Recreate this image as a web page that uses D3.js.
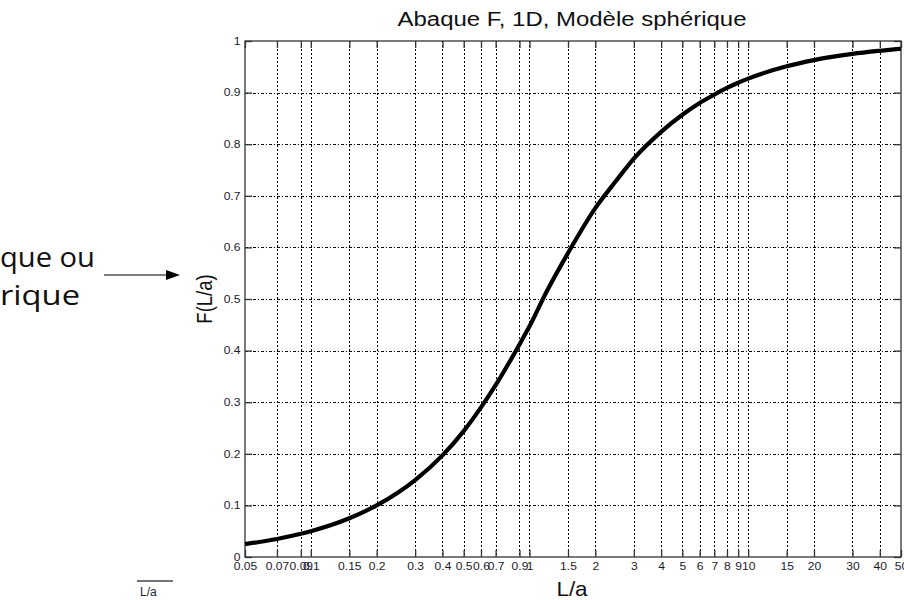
<!DOCTYPE html>
<html>
<head>
<meta charset="utf-8">
<script src="https://cdnjs.cloudflare.com/ajax/libs/d3/7.8.5/d3.min.js"></script>
<style>
  body { margin: 0; background: #fff; overflow: hidden; }
  .tick text { font-family: "Liberation Sans", Arial, sans-serif; font-size: 10.5px; fill: #1a1a2a; }
</style>
</head>
<body>
<div id="chart"></div>
<script>
//values (L/a, F)
var ratio_values = [0.05, 0.07, 0.09, 0.1, 0.15, 0.2, 0.3, 0.4, 0.5, 0.6, 0.7, 0.8, 0.9, 1,
  1.2, 1.5, 2, 2.5, 3, 4, 5, 6, 7, 8, 9, 10, 15, 20, 30, 40, 50];
var f_values = [0.025, 0.035, 0.045, 0.05, 0.075, 0.1, 0.149, 0.197, 0.244, 0.29, 0.333, 0.374, 0.412, 0.447,
  0.515, 0.589, 0.676, 0.73, 0.772, 0.824, 0.857, 0.88, 0.896, 0.909, 0.919, 0.927, 0.951, 0.963, 0.975, 0.981, 0.985];

//tick values and labels
var x_ticks = [0.05, 0.07, 0.09, 0.1, 0.15, 0.2, 0.3, 0.4, 0.5, 0.6, 0.7, 0.9, 1,
  1.5, 2, 3, 4, 5, 6, 7, 8, 9, 10, 15, 20, 30, 40, 50];
var x_tick_labels = ['0.05', '0.07', '0.09', '0.1', '0.15', '0.2', '0.3', '0.4', '0.5', '0.6', '0.7', '0.9', '1',
  '1.5', '2', '3', '4', '5', '6', '7', '8', '9', '10', '15', '20', '30', '40', '50'];
var y_ticks = [0, 0.1, 0.2, 0.3, 0.4, 0.5, 0.6, 0.7, 0.8, 0.9, 1];
var y_tick_labels = ['0', '0.1', '0.2', '0.3', '0.4', '0.5', '0.6', '0.7', '0.8', '0.9', '1'];

//setup
var width = 904;
var height = 600;
var plot = {left: 245, right: 901, top: 41, bottom: 557};
var label_stretch = 1.15;

var svg = d3.select('#chart')
  .append('svg')
  .attr('width', width)
  .attr('height', height);

var x = d3.scaleLog()
  .domain([0.05, 50])
  .range([plot.left, plot.right]);

var y = d3.scaleLinear()
  .domain([0, 1])
  .range([plot.bottom, plot.top]);

//grid (dotted, matlab style)
svg.append('g')
  .selectAll('line')
  .data(x_ticks.slice(1, -1))
  .enter()
  .append('line')
  .attr('x1', function(d) { return Math.round(x(d)) + 0.5; })
  .attr('x2', function(d) { return Math.round(x(d)) + 0.5; })
  .attr('y1', plot.top)
  .attr('y2', plot.bottom)
  .attr('stroke', '#000')
  .attr('stroke-width', 1)
  .attr('stroke-dasharray', '2,2');

svg.append('g')
  .selectAll('line')
  .data(y_ticks.slice(1, -1))
  .enter()
  .append('line')
  .attr('x1', plot.left)
  .attr('x2', plot.right)
  .attr('y1', function(d) { return Math.round(y(d)) + 0.5; })
  .attr('y2', function(d) { return Math.round(y(d)) + 0.5; })
  .attr('stroke', '#000')
  .attr('stroke-width', 1)
  .attr('stroke-dasharray', '3,2,1,2');

//axes, ticks pointing inward
var x_axis = svg.append('g')
  .attr('transform', 'translate(0,' + plot.bottom + ')')
  .call(d3.axisBottom(x)
    .tickValues(x_ticks)
    .tickFormat(function(d, i) { return x_tick_labels[i]; })
    .tickSizeInner(-7)
    .tickSizeOuter(0)
    .tickPadding(6));

x_axis.selectAll('.tick text')
  .attr('transform', 'scale(' + label_stretch + ',1)');

var y_axis = svg.append('g')
  .attr('transform', 'translate(' + plot.left + ',0)')
  .call(d3.axisLeft(y)
    .tickValues(y_ticks)
    .tickFormat(function(d, i) { return y_tick_labels[i]; })
    .tickSizeInner(-7)
    .tickSizeOuter(0)
    .tickPadding(4));

y_axis.selectAll('.tick text')
  .attr('transform', 'scale(' + label_stretch + ',1)');

svg.append('g')
  .attr('transform', 'translate(0,' + plot.top + ')')
  .call(d3.axisTop(x)
    .tickValues(x_ticks)
    .tickFormat('')
    .tickSizeInner(-7)
    .tickSizeOuter(0));

svg.append('g')
  .attr('transform', 'translate(' + plot.right + ',0)')
  .call(d3.axisRight(y)
    .tickValues(y_ticks)
    .tickFormat('')
    .tickSizeInner(-7)
    .tickSizeOuter(0));

svg.selectAll('.domain').remove();
svg.selectAll('.tick line')
  .attr('stroke', '#333')
  .attr('stroke-width', 1.3);

//frame
svg.append('rect')
  .attr('x', plot.left)
  .attr('y', plot.top)
  .attr('width', plot.right - plot.left)
  .attr('height', plot.bottom - plot.top)
  .attr('fill', 'none')
  .attr('stroke', '#333')
  .attr('stroke-width', 1.3);

//curve
var curve_data = ratio_values.map(function(r, i) { return [r, f_values[i]]; });

var line = d3.line()
  .x(function(d) { return x(d[0]); })
  .y(function(d) { return y(d[1]); })
  .curve(d3.curveMonotoneX);

svg.append('path')
  .datum(curve_data)
  .attr('d', line)
  .attr('fill', 'none')
  .attr('stroke', '#000')
  .attr('stroke-width', 4.2)
  .attr('stroke-linejoin', 'round');

//titles
svg.append('text')
  .attr('x', (plot.left + plot.right) / 2 - 1)
  .attr('y', 26)
  .attr('text-anchor', 'middle')
  .attr('textLength', 349)
  .attr('lengthAdjust', 'spacingAndGlyphs')
  .style('font-family', '"Liberation Sans", Arial, sans-serif')
  .style('font-size', '19.5px')
  .style('fill', '#111')
  .text('Abaque F, 1D, Modèle sphérique');

svg.append('text')
  .attr('transform', 'translate(572,596) scale(1.12,1)')
  .attr('text-anchor', 'middle')
  .style('font-family', '"Liberation Sans", Arial, sans-serif')
  .style('font-size', '20px')
  .style('fill', '#111')
  .text('L/a');

svg.append('text')
  .attr('transform', 'translate(212,299) scale(1.2,1) rotate(-90)')
  .attr('text-anchor', 'middle')
  .style('font-family', '"Liberation Sans", Arial, sans-serif')
  .style('font-size', '18.5px')
  .style('fill', '#111')
  .text('F(L/a)');

//slide text on the left
svg.append('text')
  .attr('x', 0)
  .attr('y', 267)
  .attr('textLength', 95)
  .attr('lengthAdjust', 'spacingAndGlyphs')
  .style('font-family', '"Open Sans", sans-serif')
  .style('font-size', '28px')
  .style('fill', '#111')
  .text('que ou');

svg.append('text')
  .attr('x', 0)
  .attr('y', 305)
  .attr('textLength', 80)
  .attr('lengthAdjust', 'spacingAndGlyphs')
  .style('font-family', '"Open Sans", sans-serif')
  .style('font-size', '28px')
  .style('fill', '#111')
  .text('rique');

//arrow
svg.append('line')
  .attr('x1', 104)
  .attr('x2', 168)
  .attr('y1', 275)
  .attr('y2', 275)
  .attr('stroke', '#000')
  .attr('stroke-width', 1.2);

svg.append('path')
  .attr('d', 'M166,270L180,275L166,280Z')
  .attr('fill', '#000');

//fraction bar at bottom left
svg.append('line')
  .attr('x1', 137)
  .attr('x2', 173)
  .attr('y1', 581)
  .attr('y2', 581)
  .attr('stroke', '#444')
  .attr('stroke-width', 1.5);

svg.append('text')
  .attr('x', 140)
  .attr('y', 596)
  .style('font-family', '"Liberation Sans", Arial, sans-serif')
  .style('font-size', '12px')
  .style('fill', '#223')
  .text('L/a');
</script>
</body>
</html>
